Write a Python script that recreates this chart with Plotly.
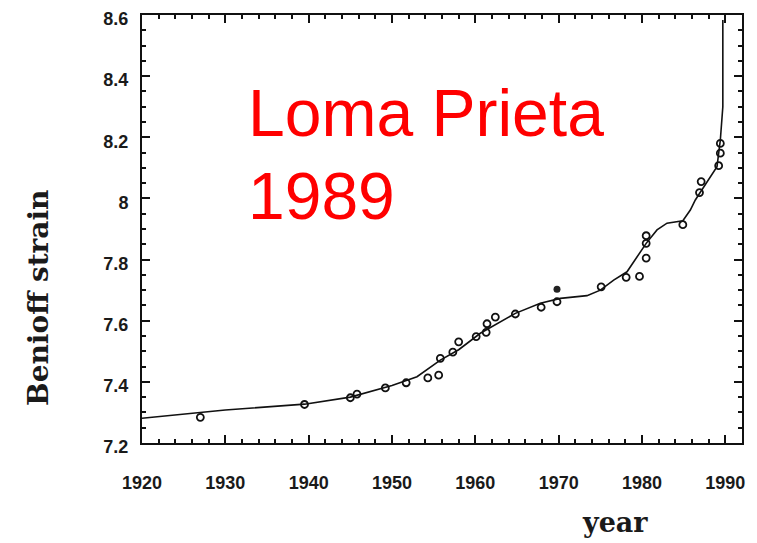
import plotly.graph_objects as go

# Observed Benioff strain points (open circles)
obs_year = [1927.0, 1939.5, 1945.0, 1945.8, 1949.2, 1951.7, 1954.3, 1955.6,
            1955.8, 1957.3, 1958.0, 1960.1, 1961.3, 1961.4, 1962.4, 1964.8,
            1967.9, 1969.8, 1975.1, 1978.1, 1979.7, 1980.5, 1980.5, 1980.5,
            1984.9, 1986.9, 1987.1, 1989.2, 1989.4, 1989.4]
obs_strain = [7.284, 7.326, 7.348, 7.360, 7.380, 7.397, 7.413, 7.422,
              7.477, 7.497, 7.531, 7.548, 7.562, 7.590, 7.612, 7.622,
              7.644, 7.662, 7.711, 7.742, 7.745, 7.805, 7.853, 7.878,
              7.914, 8.019, 8.055, 8.107, 8.148, 8.180]

# Single filled point
filled_year = [1969.8]
filled_strain = [7.703]

# Fitted curve
fit_year = [1920.0, 1930.0, 1939.5, 1945.0, 1950.0, 1953.0, 1955.8, 1958.0,
            1960.6, 1964.8, 1967.8, 1970.2, 1973.4, 1975.0, 1976.6, 1978.2,
            1980.5, 1981.8, 1983.0, 1984.9, 1985.8, 1986.4, 1986.9, 1989.0,
            1989.4, 1989.7, 1989.7]
fit_strain = [7.281, 7.308, 7.327, 7.350, 7.388, 7.417, 7.471, 7.505,
              7.559, 7.624, 7.657, 7.673, 7.682, 7.700, 7.733, 7.760,
              7.853, 7.897, 7.919, 7.927, 7.962, 7.995, 8.016, 8.104,
              8.191, 8.300, 8.584]

x_ticks = [1920, 1930, 1940, 1950, 1960, 1970, 1980, 1990]
y_ticks = [7.2, 7.4, 7.6, 7.8, 8.0, 8.2, 8.4, 8.6]
y_tick_labels = ["7.2", "7.4", "7.6", "7.8", "8", "8.2", "8.4", "8.6"]

fig = go.Figure()

fig.add_trace(go.Scatter(
    x=fit_year, y=fit_strain, mode="lines",
    line=dict(color="#111111", width=1.6),
    showlegend=False, hoverinfo="skip",
))
fig.add_trace(go.Scatter(
    x=obs_year, y=obs_strain, mode="markers",
    marker=dict(symbol="circle-open", size=7, color="#111111",
                line=dict(width=1.8, color="#111111")),
    showlegend=False,
))
fig.add_trace(go.Scatter(
    x=filled_year, y=filled_strain, mode="markers",
    marker=dict(symbol="circle", size=7, color="#222222"),
    showlegend=False,
))

tick_font = dict(family="Liberation Sans, Arial", size=18, color="#1a1a1a",
                 weight="bold")

fig.update_xaxes(
    range=[1920, 1992], tickvals=x_ticks, ticks="inside", ticklen=8,
    tickwidth=1.5, tickcolor="#111111",
    minor=dict(dtick=2, ticks="inside", ticklen=4, tickcolor="#111111"),
    showline=True, linecolor="#111111", linewidth=2, mirror="allticks",
    showgrid=False, zeroline=False, tickfont=tick_font,
    ticklabelstandoff=22, automargin=False, ticklabeloverflow="allow",
)
fig.update_yaxes(
    range=[7.2, 8.6], tickvals=y_ticks, ticktext=y_tick_labels,
    ticks="inside", ticklen=8, tickwidth=1.5, tickcolor="#111111",
    minor=dict(dtick=0.05, ticks="inside", ticklen=4, tickcolor="#111111"),
    showline=True, linecolor="#111111", linewidth=2, mirror="allticks",
    showgrid=False, zeroline=False, tickfont=tick_font,
    ticklabelstandoff=8, ticklabelshift=4,
    automargin=False, ticklabeloverflow="allow",
)

# Earthquake label (plot area spans 142..742 px wide, 15..443 px high)
red_font = dict(family="Liberation Sans, Arial", size=66, color="#ff0000")
fig.add_annotation(
    text="Loma Prieta", xref="paper", yref="paper",
    x=(246 - 142) / 600, y=1 - (113 - 15) / 428,
    xanchor="left", yanchor="middle", showarrow=False, font=red_font,
)
fig.add_annotation(
    text="1989", xref="paper", yref="paper",
    x=(246 - 142) / 600, y=1 - (196 - 15) / 428,
    xanchor="left", yanchor="middle", showarrow=False, font=red_font,
)

# Axis titles
fig.add_annotation(
    text="<b>Benioff strain</b>", xref="paper", yref="paper",
    x=(38 - 142) / 600, y=1 - (298 - 15) / 428, textangle=-90,
    xanchor="center", yanchor="middle", showarrow=False,
    font=dict(family="DejaVu Serif", size=28, color="#1a1a1a"),
)
fig.add_annotation(
    text="<b>year</b>", xref="paper", yref="paper",
    x=(615 - 142) / 600, y=1 - (522 - 15) / 428,
    xanchor="center", yanchor="middle", showarrow=False,
    font=dict(family="DejaVu Serif", size=27, color="#1a1a1a"),
)

# The page body adds an 8 px offset, so the figure is sized to fit the window
fig.update_layout(
    width=749, height=535,
    margin=dict(l=134, r=15, t=7, b=100),
    paper_bgcolor="white", plot_bgcolor="white",
)

fig.write_html("out.html")
